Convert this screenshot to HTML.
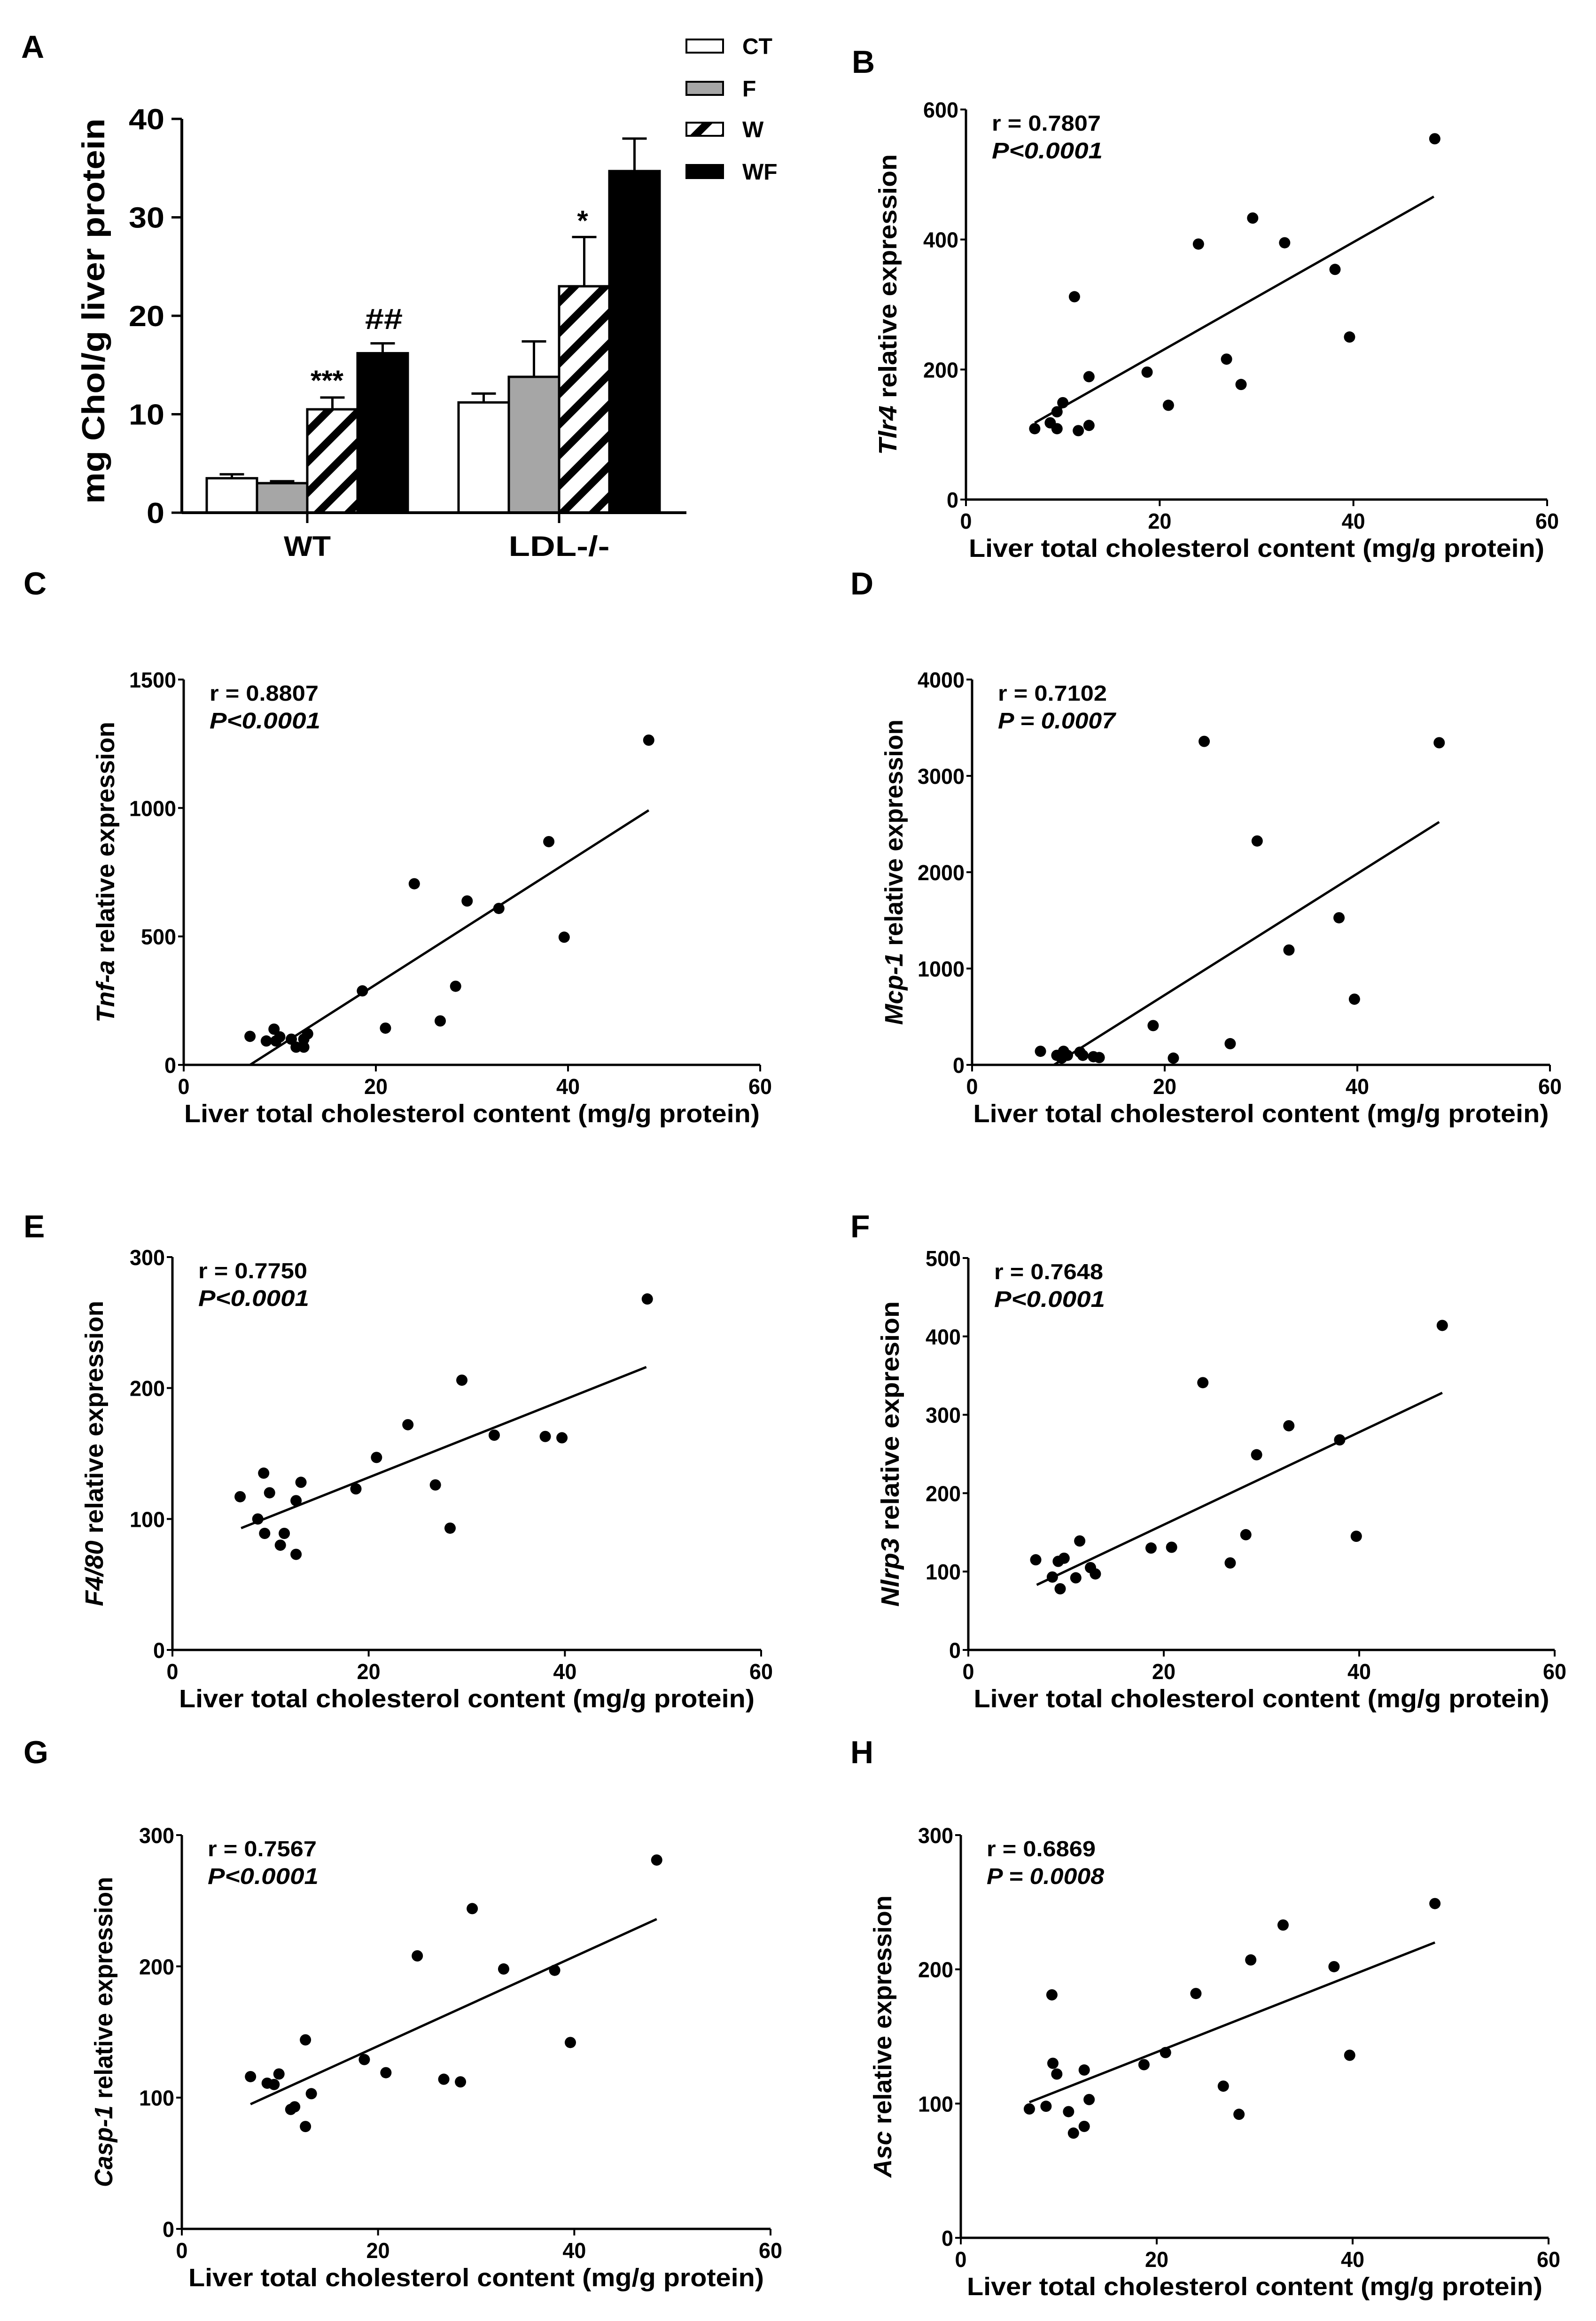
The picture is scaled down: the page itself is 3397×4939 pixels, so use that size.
<!DOCTYPE html>
<html><head><meta charset="utf-8"><style>
html,body{margin:0;padding:0;background:#fff}
svg{display:block}
text{font-family:"Liberation Sans",Arial,sans-serif;font-weight:bold;fill:#000}
</style></head><body>
<svg id="fig" xmlns="http://www.w3.org/2000/svg" width="3397" height="4939" viewBox="0 0 3397 4939">
<defs>
<pattern id="hatch" patternUnits="userSpaceOnUse" width="46" height="46" patternTransform="rotate(45)">
<rect width="46" height="46" fill="#fff"/><rect x="0" y="0" width="16" height="46" fill="#000"/>
</pattern>
</defs>
<rect width="3397" height="4939" fill="#fff"/>
<g id="root"></g>
</svg>
<script>
// ---- Panel A data ----
const groupsA = ["WT", "LDL-/-"];
const seriesA = ["CT", "F", "W", "WF"];
const meanCT = [3.5, 11.2];
const meanF = [3.0, 13.8];
const meanW = [10.5, 23.0];
const meanWF = [16.2, 34.7];
const errCT = [0.4, 0.9];
const errF = [0.2, 3.6];
const errW = [1.2, 5.0];
const errWF = [1.0, 3.3];
const ticksA = [0, 10, 20, 30, 40];

// ---- Scatter data ----
const xB = [7.1,8.7,9.4,9.4,10.0,11.2,11.6,12.7,12.7,18.7,20.9,24.0,26.9,28.4,29.6,32.9,38.1,39.6,48.4];
const yB = [109,118,109,135,149,312,106,114,189,196,145,393,216,177,433,395,354,250,555];
const fitB = [7.1,118,48.3,466];
const xC = [6.9,8.6,9.4,9.6,10.0,11.2,11.7,12.5,12.5,12.9,18.6,21.0,24.0,26.7,28.3,29.5,32.8,38.0,39.6,48.4];
const yC = [111,93,139,93,109,100,69,69,100,121,288,143,705,171,306,638,609,869,497,1264];
const fitC = [6.9,0,48.4,991];
const xD = [7.1,8.8,9.5,9.3,9.9,11.2,11.5,12.6,13.2,18.8,20.9,24.1,26.8,29.6,32.9,38.1,39.7,48.5];
const yD = [141,99,141,70,99,132,99,85,76,408,70,3358,220,2324,1192,1527,682,3344];
const fitD = [8.5,0,48.5,2521];
const xE = [6.9,8.7,9.3,9.4,9.9,11.0,11.4,12.6,12.6,13.1,18.7,20.8,24.0,26.8,28.3,29.5,32.8,38.0,39.7,48.4];
const yE = [117,100,135,89,120,80,89,114,73,128,123,147,172,126,93,206,164,163,162,268];
const fitE = [7.0,93,48.3,216];
const xF = [6.9,8.6,9.2,9.8,9.4,11.0,11.4,12.5,13.0,18.7,20.8,24.0,26.8,28.4,29.5,32.8,38.0,39.7,48.5];
const yF = [115,93,113,117,78,92,139,105,97,130,131,341,111,147,249,286,268,145,414];
const fitF = [7.0,83,48.5,328];
const xG = [7.0,8.7,9.4,9.9,11.1,11.5,12.6,12.6,13.2,18.6,20.8,24.0,26.7,28.4,29.6,32.8,38.0,39.6,48.4];
const yG = [116,111,110,118,91,93,144,78,103,129,119,208,114,112,244,198,197,142,281];
const fitG = [7.0,95,48.4,236];
const xH = [7.0,8.7,9.3,9.4,9.8,11.0,11.5,12.6,12.6,13.1,18.7,20.9,24.0,26.8,28.4,29.6,32.9,38.1,39.7,48.4];
const yH = [96,98,181,130,122,94,78,125,83,103,129,138,182,113,92,207,233,202,136,249];
const fitH = [7.0,101,48.4,220];
const xTicks = [0, 20, 40, 60];
const ticksB = [0,200,400,600];
const ticksC = [0,500,1000,1500];
const ticksD = [0,1000,2000,3000,4000];
const ticksE = [0,100,200,300];
const ticksF = [0,100,200,300,400,500];
const ticksG = [0,100,200,300];
const ticksH = [0,100,200,300];

const NS = "http://www.w3.org/2000/svg";
const root = document.getElementById("root");
function mk(tag, attrs, parent){
  const e = document.createElementNS(NS, tag);
  for (const k in attrs) e.setAttribute(k, attrs[k]);
  (parent||root).appendChild(e);
  return e;
}
function txt(s, attrs, parent){ const t = mk("text", attrs, parent); t.textContent = s; return t; }

// ---------- Panel A ----------
(function(){
  const g = mk("g", {});
  
  
  const ax = 387, axR = 1461, y0 = 1091, yTop = 253, vmax = 40;
  const yS = v => y0 - v * (y0 - yTop) / vmax;
  const lbl = txt("A", {x: 45, y: 123, "font-size": 68});
  
  
  const means = [meanCT, meanF, meanW, meanWF];
  const errs = [errCT, errF, errW, errWF];
  const fills = ["#fff", "#a6a6a6", "url(#hatch)", "#000"];
  const gStart = [440, 976], bw = 107;
  for (let gi = 0; gi < groupsA.length; gi++) {
    for (let si = 0; si < seriesA.length; si++) {
      const x = gStart[gi] + si * bw, v = means[si][gi], e = errs[si][gi];
      const ln = mk("line", {x1: x + bw/2, x2: x + bw/2, y1: yS(v), y2: yS(v + e), stroke: "#000", "stroke-width": 5}, g);
      
      
      const cap = mk("line", {x1: x + bw/2 - 26, x2: x + bw/2 + 26, y1: yS(v + e), y2: yS(v + e), stroke: "#000", "stroke-width": 5}, g);
      
      
      const r = mk("rect", {x: x, y: yS(v), width: bw, height: y0 - yS(v), fill: fills[si], stroke: "#000", "stroke-width": 5}, g);
      
      
    }
  }
  const yl = mk("line", {x1: ax, x2: ax, y1: yTop, y2: y0, stroke: "#000", "stroke-width": 6}, g);
  
  
  const xl = mk("line", {x1: ax, x2: axR, y1: y0, y2: y0, stroke: "#000", "stroke-width": 6}, g);
  
  
  ticksA.forEach(t => {
    const tk = mk("line", {x1: ax - 22, x2: ax, y1: yS(t), y2: yS(t), stroke: "#000", "stroke-width": 5}, g);
    
    
    const s = String(t);
    const tl = txt(s, {x: 350, y: yS(t) + 22, "font-size": 62, "text-anchor": "end", textLength: s.length * 38, lengthAdjust: "spacingAndGlyphs"}, g);
    
    
  });
  const catLen = [100, 215];
  groupsA.forEach((c, gi) => {
    const cx = gStart[gi] + 2 * bw;
    const tk = mk("line", {x1: cx, x2: cx, y1: y0, y2: y0 + 22, stroke: "#000", "stroke-width": 5}, g);
    
    
    const cl = txt(c, {x: cx, y: 1183, "font-size": 60, "text-anchor": "middle", textLength: catLen[gi], lengthAdjust: "spacingAndGlyphs"}, g);
    
    
  });
  const yt = txt("mg Chol/g liver protein", {x: 0, y: 0, "font-size": 68, "text-anchor": "middle", transform: "translate(222,662) rotate(-90)", textLength: 820, lengthAdjust: "spacingAndGlyphs"}, g);
  
  
  const a1 = txt("***", {x: 696, y: 830, "font-size": 60, "text-anchor": "middle"}, g);
  
  
  const a2 = txt("##", {x: 817, y: 700, "font-size": 62, "text-anchor": "middle", textLength: 80, lengthAdjust: "spacingAndGlyphs"}, g);
  
  
  const a3 = txt("*", {x: 1240, y: 490, "font-size": 60, "text-anchor": "middle"}, g);
  
  
  const legY = [98, 188, 275, 365];
  seriesA.forEach((s, si) => {
    const b = mk("rect", {x: 1461, y: legY[si] - 14, width: 78, height: 28, fill: fills[si], stroke: "#000", "stroke-width": 4}, g);
    
    
    const t = txt(s, {x: 1580, y: legY[si] + 17, "font-size": 48}, g);
    
    
  });
})();

// ---------- Scatter panels ----------
function scatter(p){
  const g = mk("g", {});
  
  
  const xS = v => p.ox + v * (p.x60 - p.ox) / 60;
  const yS = v => p.y0 - v * (p.y0 - p.yTop) / p.ymax;
  const lbl = txt(p.id.toUpperCase(), {x: p.lx, y: p.ly, "font-size": 68});
  
  
  const yl = mk("line", {x1: p.ox, x2: p.ox, y1: p.yTop, y2: p.y0, stroke: "#000", "stroke-width": 5}, g);
  
  
  const xl = mk("line", {x1: p.ox, x2: p.x60, y1: p.y0, y2: p.y0, stroke: "#000", "stroke-width": 5}, g);
  
  
  p.yticks.forEach(t => {
    const tk = mk("line", {x1: p.ox - 12, x2: p.ox, y1: yS(t), y2: yS(t), stroke: "#000", "stroke-width": 4}, g);
    
    
    const s = String(t);
    const tl = txt(s, {x: p.ox - 16, y: yS(t) + 17, "font-size": 46, "text-anchor": "end", textLength: s.length * 25, lengthAdjust: "spacingAndGlyphs"}, g);
    
    
  });
  xTicks.forEach(t => {
    const tk = mk("line", {x1: xS(t), x2: xS(t), y1: p.y0, y2: p.y0 + 14, stroke: "#000", "stroke-width": 4}, g);
    
    
    const s = String(t);
    const tl = txt(s, {x: xS(t), y: p.y0 + 62, "font-size": 46, "text-anchor": "middle", textLength: s.length * 25, lengthAdjust: "spacingAndGlyphs"}, g);
    
    
  });
  const xt = txt("Liver total cholesterol content (mg/g protein)", {x: (p.ox + p.x60) / 2, y: p.y0 + 122, "font-size": 54, "text-anchor": "middle", textLength: 1225, lengthAdjust: "spacingAndGlyphs"}, g);
  
  
  const cy = (p.y0 + p.yTop) / 2;
  const yt = txt("", {x: 0, y: 0, "font-size": 54, "text-anchor": "middle", transform: "translate(" + (p.ox - 148) + "," + cy + ") rotate(-90)", textLength: p.ylen, lengthAdjust: "spacingAndGlyphs"}, g);
  
  
  const it = document.createElementNS(NS, "tspan"); it.setAttribute("font-style", "italic"); it.textContent = p.gene; yt.appendChild(it);
  const rest = document.createElementNS(NS, "tspan"); rest.textContent = " " + p.ytail; yt.appendChild(rest);
  const r = txt(p.r, {x: p.ox + 55, y: p.yTop + 45, "font-size": 46, textLength: 232, lengthAdjust: "spacingAndGlyphs"}, g);
  
  
  const pv = txt(p.p, {x: p.ox + 55, y: p.yTop + 104, "font-size": 48, "font-style": "italic", textLength: p.p.length > 8 ? 250 : 236, lengthAdjust: "spacingAndGlyphs"}, g);
  
  
  const f = p.fit;
  const fl = mk("line", {x1: xS(f[0]), y1: yS(f[1]), x2: xS(f[2]), y2: yS(f[3]), stroke: "#000", "stroke-width": 5}, g);
  
  
  p.xs.forEach((xv, i) => {
    const c = mk("ellipse", {cx: xS(xv), cy: yS(p.ys[i]), rx: 12, ry: 12, fill: "#000"}, g);
    
    
  });
}
scatter({id:"b", ox:2056, x60:3293, y0:1063, yTop:233, ymax:600, yticks:ticksB, xs:xB, ys:yB, fit:fitB, gene:"Tlr4", ytail:"relative expression", ylen:640, r:"r = 0.7807", p:"P<0.0001", lx:1813, ly:155});
scatter({id:"c", ox:391, x60:1618, y0:2266, yTop:1446, ymax:1500, yticks:ticksC, xs:xC, ys:yC, fit:fitC, gene:"Tnf-a", ytail:"relative expression", ylen:640, r:"r = 0.8807", p:"P<0.0001", lx:50, ly:1265});
scatter({id:"d", ox:2069, x60:3299, y0:2266, yTop:1446, ymax:4000, yticks:ticksD, xs:xD, ys:yD, fit:fitD, gene:"Mcp-1", ytail:"relative expression", ylen:650, r:"r = 0.7102", p:"P = 0.0007", lx:1810, ly:1265});
scatter({id:"e", ox:367, x60:1620, y0:3511, yTop:2675, ymax:300, yticks:ticksE, xs:xE, ys:yE, fit:fitE, gene:"F4/80", ytail:"relative expression", ylen:650, r:"r = 0.7750", p:"P<0.0001", lx:50, ly:2633});
scatter({id:"f", ox:2061, x60:3309, y0:3511, yTop:2677, ymax:500, yticks:ticksF, xs:xF, ys:yF, fit:fitF, gene:"Nlrp3", ytail:"relative expresion", ylen:650, r:"r = 0.7648", p:"P<0.0001", lx:1810, ly:2633});
scatter({id:"g", ox:387, x60:1640, y0:4743, yTop:3905, ymax:300, yticks:ticksG, xs:xG, ys:yG, fit:fitG, gene:"Casp-1", ytail:"relative expression", ylen:660, r:"r = 0.7567", p:"P<0.0001", lx:50, ly:3752});
scatter({id:"h", ox:2045, x60:3296, y0:4762, yTop:3905, ymax:300, yticks:ticksH, xs:xH, ys:yH, fit:fitH, gene:"Asc", ytail:"relative expression", ylen:600, r:"r = 0.6869", p:"P = 0.0008", lx:1810, ly:3752});
</script>
</body></html>
